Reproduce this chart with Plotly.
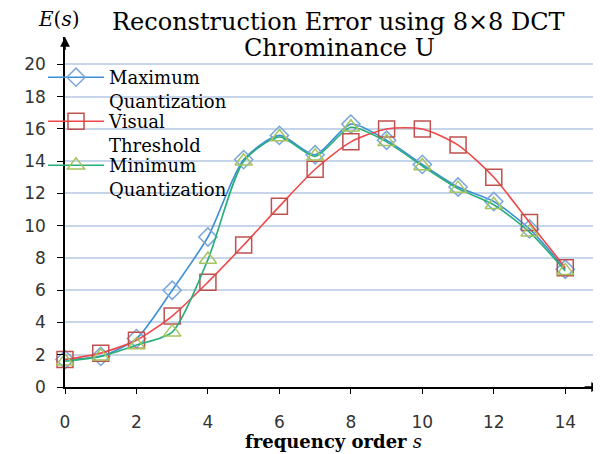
import plotly.graph_objects as go

s_order = list(range(15))
max_quant = [1.7, 1.9, 3.0, 6.0, 9.3, 14.1, 15.6, 14.4, 16.3, 15.3, 13.8, 12.4, 11.5, 9.8, 7.3]
visual_thr = [1.7, 2.1, 2.9, 4.4, 6.5, 8.8, 11.2, 13.5, 15.2, 16.0, 16.0, 15.0, 13.0, 10.2, 7.4]
min_quant = [1.6, 1.9, 2.6, 3.4, 7.9, 14.0, 15.5, 14.3, 16.1, 15.2, 13.7, 12.3, 11.3, 9.6, 7.2]
y_ticks = list(range(0, 21, 2))
x_ticks = list(range(0, 15, 2))

SERIF = "DejaVu Serif"
SANS = "DejaVu Sans"

OFF = 8  # page body margin in the browser
FW, FH = 601 - OFF, 454 - OFF
L, B, W, H = 65 - OFF, 387 - OFF, 536, 350  # plot-area pixels in figure coords


def px(xr):
    """reference screen x -> paper x"""
    return (xr - OFF - L) / W


def py(yr):
    """reference screen y -> paper y"""
    return (B - (yr - OFF)) / H


fig = go.Figure()
fig.add_trace(go.Scatter(
    x=s_order, y=max_quant, name="Maximum<br>Quantization", mode="lines+markers",
    line=dict(color="#3d8fd6", width=1.6, shape="spline", smoothing=0.7),
    marker=dict(symbol="diamond-open", size=14, color="#7aa6dc", line=dict(width=1.5)),
    cliponaxis=False, legend="legend"))
fig.add_trace(go.Scatter(
    x=s_order, y=visual_thr, name="Visual<br>Threshold", mode="lines+markers",
    line=dict(color="#f04848", width=1.6, shape="spline", smoothing=0.7),
    marker=dict(symbol="square-open", size=16, color="#c0504d", line=dict(width=1.5)),
    cliponaxis=False, legend="legend2"))
fig.add_trace(go.Scatter(
    x=s_order, y=min_quant, name="Minimum<br>Quantization", mode="lines+markers",
    line=dict(color="#28ae78", width=1.6, shape="spline", smoothing=0.7),
    marker=dict(symbol="triangle-up-open", size=15, color="#a5c45c", line=dict(width=1.5)),
    cliponaxis=False, legend="legend3"))

legend_common = dict(xanchor="left", yanchor="top", bgcolor="rgba(0,0,0,0)",
                     valign="top", itemwidth=56,
                     font=dict(family=SERIF, size=18, color="black"))

fig.update_layout(
    width=FW, height=FH,
    margin=dict(l=L, r=FW - L - W, t=B - H, b=FH - B, autoexpand=False),
    paper_bgcolor="white", plot_bgcolor="white",
    showlegend=True,
    legend=dict(x=px(43), y=py(59), **legend_common),
    legend2=dict(x=px(43), y=py(103), **legend_common),
    legend3=dict(x=px(43), y=py(147), **legend_common),
    xaxis=dict(range=[0, 15], tickvals=x_ticks, showgrid=False, zeroline=False,
               showline=True, linecolor="black", linewidth=1.5,
               ticks="outside", ticklen=5, tickcolor="black", tickwidth=1.2,
               ticklabelstandoff=14, automargin=False,
               tickfont=dict(family=SANS, size=17, color="#333333")),
    yaxis=dict(range=[0, 21.7], tickvals=y_ticks, showgrid=True, gridcolor="#c6d5ea",
               gridwidth=1.5, zeroline=False,
               showline=True, linecolor="black", linewidth=1.5,
               ticks="outside", ticklen=6, tickcolor="black", tickwidth=1.2,
               ticklabelstandoff=8, automargin=False,
               tickfont=dict(family=SANS, size=17, color="#333333")),
    annotations=[
        dict(x=0, y=21.7, ax=0, ay=20.8, xref="x", yref="y", axref="x", ayref="y",
             showarrow=True, arrowhead=2, arrowsize=1.3, arrowwidth=1.5, arrowcolor="black", text=""),
        dict(x=15, y=0, ax=14.5, ay=0, xref="x", yref="y", axref="x", ayref="y",
             showarrow=True, arrowhead=2, arrowsize=1.3, arrowwidth=1.5, arrowcolor="black", text=""),
        dict(x=px(338), y=py(22), xref="paper", yref="paper", xanchor="center", yanchor="middle",
             showarrow=False, text="Reconstruction Error using 8×8 DCT",
             font=dict(family=SERIF, size=24, color="black")),
        dict(x=px(339), y=py(48), xref="paper", yref="paper", xanchor="center", yanchor="middle",
             showarrow=False, text="Chrominance U",
             font=dict(family=SERIF, size=24, color="black")),
        dict(x=px(59), y=py(19), xref="paper", yref="paper", xanchor="center", yanchor="middle",
             showarrow=False, text="<i>E</i>(<i>s</i>)",
             font=dict(family=SERIF, size=20, color="black")),
        dict(x=px(333), y=py(442), xref="paper", yref="paper",
             xanchor="center", yanchor="middle", showarrow=False,
             text="<b>frequency order </b><i>s</i>",
             font=dict(family=SERIF, size=18, color="black")),
    ],
)

fig.write_html("out.html")
